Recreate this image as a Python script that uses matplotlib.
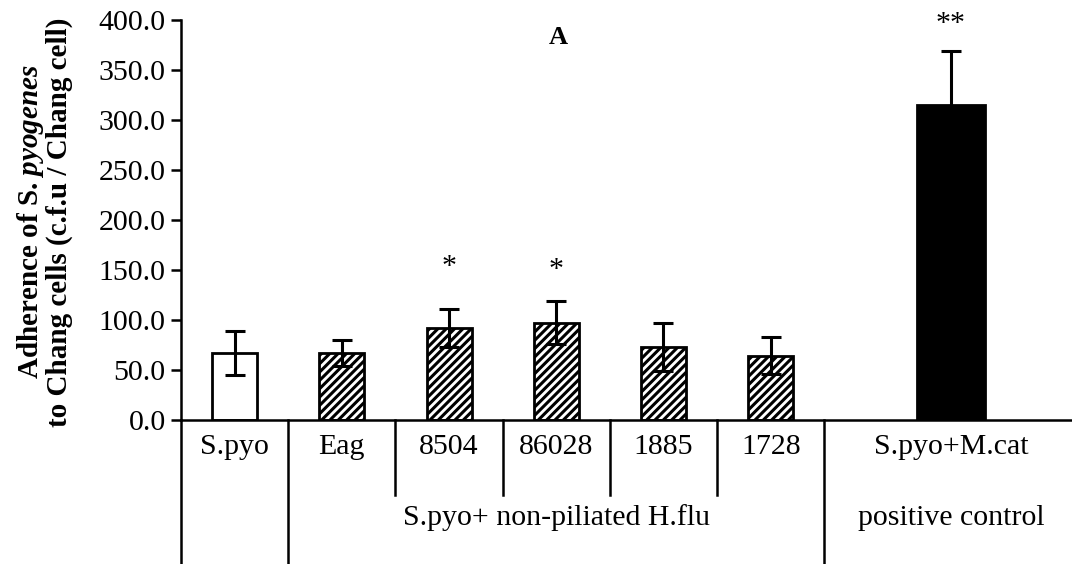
"""
Adherence of S. pyogenes to Chang cells, alone and mixed with
non-piliated H. influenzae strains or M. catarrhalis (panel A)
"""
import matplotlib
matplotlib.use("Agg")
import matplotlib.pyplot as plt
import matplotlib.transforms as mtransforms
import numpy as np

# values
strains = ["S.pyo", "Eag", "8504", "86028", "1885", "1728", "S.pyo+M.cat"]
adherence = [67.0, 67.0, 92.0, 97.5, 73.0, 64.5, 315.0]
sd = [22.0, 13.0, 19.0, 21.5, 24.0, 18.5, 54.0]
stars = ["", "", "*", "*", "", "", "**"]
star_y = [0, 0, 153, 150, 0, 0, 396]
groups = ["S.pyo+ non-piliated H.flu", "positive control"]

plt.rcParams["font.family"] = ["Liberation Serif", "DejaVu Serif"]
plt.rcParams["mathtext.fontset"] = "custom"
plt.rcParams["mathtext.rm"] = "Liberation Serif:bold"
plt.rcParams["mathtext.it"] = "Liberation Serif:italic:bold"
plt.rcParams["hatch.linewidth"] = 2.2

FS = 21.5

fig = plt.figure(figsize=(10.72, 5.64), dpi=100)
ax = fig.add_axes([181 / 1072, 1 - 420 / 564, 1 - 181 / 1072, 400 / 564])

# six narrow categories, then a wider slot for the positive control
x = list(np.arange(6) + 0.5) + [7.18]
widths = [0.42] * 6 + [0.64]
faces = ["white"] + ["white"] * 5 + ["black"]
hatches = [""] + ["////"] * 5 + [""]

for xi, h, e, w, fc, ht in zip(x, adherence, sd, widths, faces, hatches):
    ax.bar(xi, h, width=w, color=fc, edgecolor="black", hatch=ht,
           linewidth=2.0, zorder=2)
    ax.errorbar(xi, h, yerr=e, fmt="none", ecolor="black", elinewidth=2.2,
                capsize=7.5, capthick=2.2, zorder=3)

for xi, s, sy in zip(x, stars, star_y):
    if s:
        ax.text(xi, sy, s, ha="center", va="center", fontsize=FS)

ax.set_xlim(0, 8.31)
ax.set_ylim(0, 400)
ax.set_yticks(np.arange(0, 401, 50))
ax.set_yticklabels([f"{v:.1f}" for v in np.arange(0, 401, 50)], fontsize=FS)
ax.tick_params(axis="y", direction="out", length=7, width=1.8, pad=4)
ax.set_xticks([])
for side in ["top", "right"]:
    ax.spines[side].set_visible(False)
ax.spines["left"].set_linewidth(1.8)
ax.spines["bottom"].set_linewidth(1.8)

# category table below the axis
trans = mtransforms.blended_transform_factory(ax.transData, ax.transAxes)
ax.plot([0, 0], [0, -0.38], transform=trans, color="black", lw=1.8,
        clip_on=False)
for b in [1, 6]:
    ax.plot([b, b], [0, -0.38], transform=trans, color="black", lw=1.8,
            clip_on=False)
for b in [2, 3, 4, 5]:
    ax.plot([b, b], [0, -0.1875], transform=trans, color="black", lw=1.8,
            clip_on=False)
for xi, name in zip(x, strains):
    ax.text(xi, -0.068, name, transform=trans, ha="center", va="center",
            fontsize=FS)
ax.text(3.5, -0.245, groups[0], transform=trans, ha="center", va="center",
        fontsize=FS)
ax.text(x[-1], -0.245, groups[1], transform=trans, ha="center", va="center",
        fontsize=FS)

ax.text(3.52, 0.957, "A", transform=trans, ha="center", va="center",
        fontsize=19, fontweight="bold")

fig.text(44 / 1072, 1 - 222 / 564,
         "Adherence of S. $\\mathit{pyogenes}$\nto Chang cells (c.f.u / Chang cell)",
         rotation=90, ha="center", va="center", fontsize=21,
         fontweight="bold", multialignment="center", linespacing=1.0)

fig.savefig("out.png", dpi=100)
